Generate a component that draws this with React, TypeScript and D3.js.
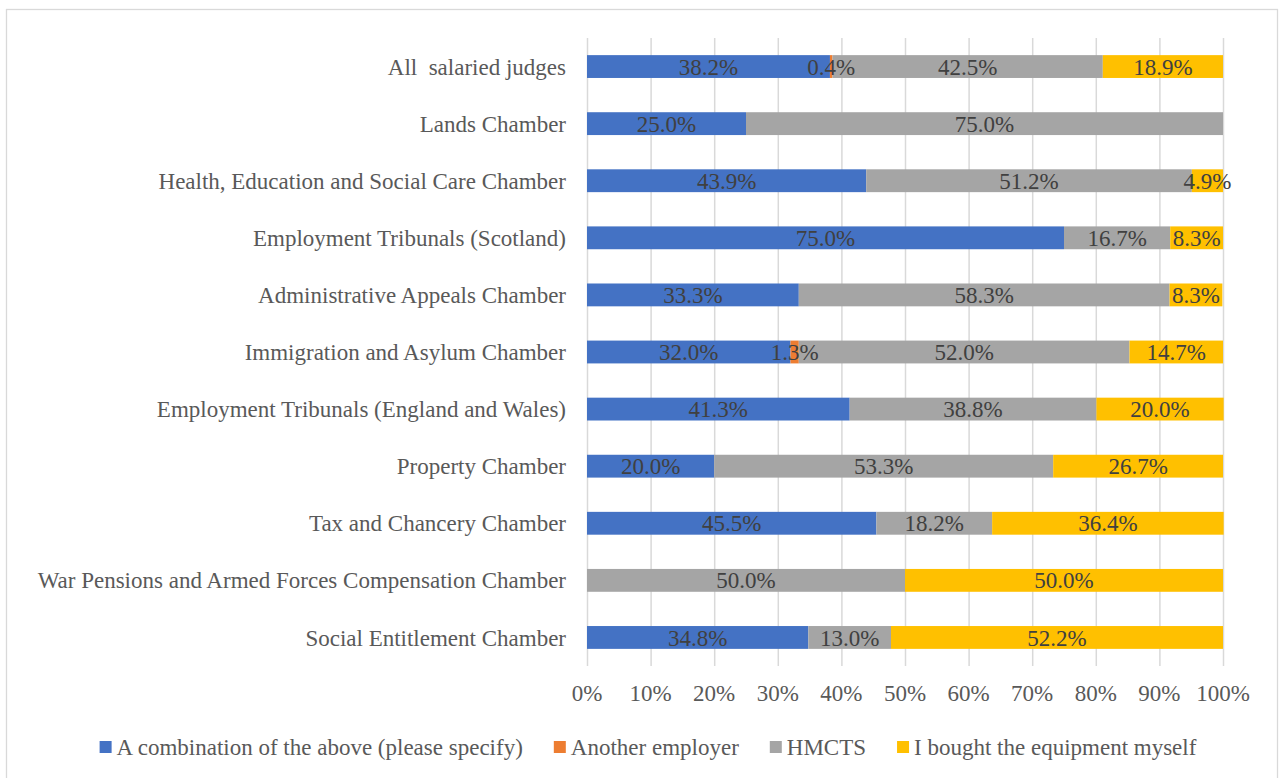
import React, { useEffect, useRef } from "react";
import * as d3 from "d3";

const categories = [
  "All  salaried judges",
  "Lands Chamber",
  "Health, Education and Social Care Chamber",
  "Employment Tribunals (Scotland)",
  "Administrative Appeals Chamber",
  "Immigration and Asylum Chamber",
  "Employment Tribunals (England and Wales)",
  "Property Chamber",
  "Tax and Chancery Chamber",
  "War Pensions and Armed Forces Compensation Chamber",
  "Social Entitlement Chamber",
];

const seriesNames = [
  "A combination of the above (please specify)",
  "Another employer",
  "HMCTS",
  "I bought the equipment myself",
];

const combination = [38.2, 25.0, 43.9, 75.0, 33.3, 32.0, 41.3, 20.0, 45.5, 0, 34.8];
const anotherEmployer = [0.4, 0, 0, 0, 0, 1.3, 0, 0, 0, 0, 0];
const hmcts = [42.5, 75.0, 51.2, 16.7, 58.3, 52.0, 38.8, 53.3, 18.2, 50.0, 13.0];
const boughtMyself = [18.9, 0, 4.9, 8.3, 8.3, 14.7, 20.0, 26.7, 36.4, 50.0, 52.2];

const xTicks = [0, 10, 20, 30, 40, 50, 60, 70, 80, 90, 100];

const COLORS = ["#4472C4", "#ED7D31", "#A5A5A5", "#FFC000"];
const FONT = "Liberation Serif";
const FONT_SIZE = 23;
const WIDTH = 1282;
const HEIGHT = 778;
const MARGIN = { LEFT: 587, RIGHT: 59, TOP: 38, BOTTOM: 112 };

const App = () => {
  const svgRef = useRef<SVGSVGElement>(null);

  useEffect(() => {
    const svg = d3.select(svgRef.current);
    svg.selectAll("*").remove();

    const rows = categories.map((name, i) => ({
      name,
      values: [combination[i], anotherEmployer[i], hmcts[i], boughtMyself[i]],
    }));

    const xScale = d3
      .scaleLinear()
      .domain([0, 100])
      .range([MARGIN.LEFT, WIDTH - MARGIN.RIGHT]);
    const yScale = d3
      .scaleBand()
      .domain(categories)
      .range([MARGIN.TOP, HEIGHT - MARGIN.BOTTOM])
      .paddingInner(0.6)
      .paddingOuter(0.3);

    // outer frame
    svg
      .append("rect")
      .attr("x", 6.5)
      .attr("y", 9.5)
      .attr("width", 1271)
      .attr("height", 780)
      .attr("fill", "#fff")
      .attr("stroke", "#d9d9d9")
      .attr("stroke-width", 1.3);

    // vertical grid
    const xAxisGrid = d3
      .axisBottom(xScale)
      .tickValues(xTicks)
      .tickFormat(() => "")
      .tickSize(-(HEIGHT - MARGIN.BOTTOM - MARGIN.TOP));
    const grid = svg
      .append("g")
      .attr("transform", `translate(0,${HEIGHT - MARGIN.BOTTOM})`)
      .call(xAxisGrid);
    grid.select(".domain").remove();
    grid.selectAll("line").attr("stroke", "#d9d9d9").attr("stroke-width", 1.5);

    // x tick labels
    svg
      .append("g")
      .selectAll("text")
      .data(xTicks)
      .join("text")
      .attr("x", (d) => xScale(d))
      .attr("y", HEIGHT - MARGIN.BOTTOM + 35)
      .attr("text-anchor", "middle")
      .attr("font-family", FONT)
      .attr("font-size", FONT_SIZE)
      .attr("fill", "#595959")
      .text((d) => `${d}%`);

    // category labels
    svg
      .append("g")
      .selectAll("text")
      .data(categories)
      .join("text")
      .attr("x", MARGIN.LEFT - 21)
      .attr("y", (d) => yScale(d)! + yScale.bandwidth() / 2)
      .attr("dy", "0.35em")
      .attr("text-anchor", "end")
      .attr("font-family", FONT)
      .attr("font-size", FONT_SIZE)
      .attr("fill", "#595959")
      .style("white-space", "pre")
      .text((d) => d);

    // stacked bars
    const segments = rows.flatMap((row) => {
      let acc = 0;
      return row.values.map((v, k) => {
        const seg = { name: row.name, k, v, x0: acc, x1: acc + v };
        acc += v;
        return seg;
      });
    });
    const drawn = segments.filter((s) => s.v > 0);

    svg
      .append("g")
      .selectAll("rect")
      .data(drawn)
      .join("rect")
      .attr("x", (d) => xScale(d.x0))
      .attr("y", (d) => yScale(d.name)!)
      .attr("width", (d) => xScale(d.x1) - xScale(d.x0))
      .attr("height", yScale.bandwidth())
      .attr("fill", (d) => COLORS[d.k]);

    svg
      .append("g")
      .selectAll("text")
      .data(drawn)
      .join("text")
      .attr("x", (d) => (xScale(d.x0) + xScale(d.x1)) / 2)
      .attr("y", (d) => yScale(d.name)! + yScale.bandwidth() / 2)
      .attr("dy", "0.35em")
      .attr("text-anchor", "middle")
      .attr("font-family", FONT)
      .attr("font-size", FONT_SIZE)
      .attr("fill", "#404040")
      .text((d) => `${d.v.toFixed(1)}%`);

    // legend
    const legend = svg.append("g");
    const items = legend
      .selectAll("g")
      .data(seriesNames)
      .join("g");
    items
      .append("rect")
      .attr("width", 12)
      .attr("height", 12)
      .attr("y", -6)
      .attr("fill", (d, i) => COLORS[i]);
    items
      .append("text")
      .attr("x", 17)
      .attr("dy", "0.35em")
      .attr("font-family", FONT)
      .attr("font-size", FONT_SIZE)
      .attr("fill", "#595959")
      .text((d) => d);

    const widths: number[] = [];
    items.each(function () {
      const t = d3.select(this).select("text").node() as SVGTextElement;
      widths.push(17 + t.getComputedTextLength());
    });
    const gap = 31;
    const total = d3.sum(widths) + gap * (widths.length - 1);
    let cx = 99 + (1098 - total) / 2;
    items.attr("transform", (d, i) => {
      const tx = cx;
      cx += widths[i] + gap;
      return `translate(${tx},${747})`;
    });
  }, []);

  return (
    <svg
      ref={svgRef}
      width={WIDTH}
      height={HEIGHT}
      style={{ position: "absolute", left: 0, top: 0, background: "#fff" }}
    ></svg>
  );
};

export default App;
